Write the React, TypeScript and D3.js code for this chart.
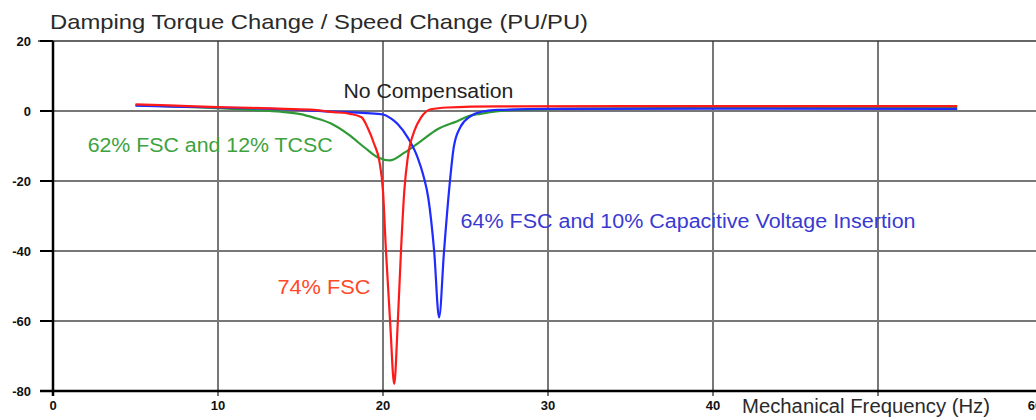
import React, { useRef, useEffect } from "react";
import * as d3 from "d3";

// Frequency (Hz) / damping value (PU/PU)
const RED_FSC74: [number, number][] = [
    [5, 1.9], [7, 1.6], [10, 1.1], [12, 0.9], [14, 0.6], [15.8, 0.3], [17, -0.3], [18, -0.8],
    [18.7, -1.8], [19.07, -4.8], [19.47, -9.5], [19.78, -14.3], [20.0, -22.9], [20.18, -40],
    [20.44, -61], [20.68, -78], [20.89, -61], [21.09, -40], [21.29, -22.9], [21.5, -13.3],
    [21.9, -5.7], [22.3, -1.9], [22.9, 0.5], [23.9, 1.0], [27, 1.3], [35, 1.4], [45, 1.4], [54.8, 1.4],
];

const BLUE_CVI: [number, number][] = [
    [5, 1.5], [8, 1.2], [10, 1.0], [14, 0.5], [17, -0.2], [19, -0.6], [20, -1.0], [20.5, -2.2],
    [20.9, -3.8], [21.5, -7.6], [22.1, -13.3], [22.45, -18.5], [22.75, -25], [23.1, -40], [23.4, -59],
    [23.7, -40], [24.0, -22.9], [24.3, -10], [24.7, -4.5], [25.3, -1.5], [25.9, -0.3], [27, 0.3],
    [30, 0.6], [40, 0.7], [54.8, 0.6],
];

const GREEN_TCSC: [number, number][] = [
    [5, 1.7], [8, 1.2], [10, 0.8], [12, 0.3], [13.8, -0.2], [15, -0.9], [15.8, -1.9], [16.85, -3.6],
    [17.9, -6.7], [18.9, -10.5], [19.7, -13.3], [20.4, -14.1], [21.3, -11.9], [22.3, -8.6],
    [23.3, -5.2], [24.5, -2.9], [25.3, -1.3], [25.9, -0.8], [28, 0.3], [32, 0.7], [40, 0.9], [54.8, 1.0],
];

const X_TICKS = [0, 10, 20, 30, 40, 60];
const X_GRID = [10, 20, 30, 40, 50];
const Y_TICKS = [20, 0, -20, -40, -60, -80];
const Y_GRID = [0, -20, -40, -60];

const SERIES = [
    { key: "green", data: GREEN_TCSC, color: "#2f9a35" },
    { key: "blue", data: BLUE_CVI, color: "#1f2bff" },
    { key: "red", data: RED_FSC74, color: "#ff1a1a" },
];

const LABELS = [
    { text: "No Compensation", f: 17.6, v: 3.8, len: 170, color: "#222" },
    { text: "62% FSC and 12% TCSC", f: 2.1, v: -11.8, len: 245, color: "#3ea23e" },
    { text: "64% FSC and 10% Capacitive Voltage Insertion", f: 24.7, v: -33.4, len: 455, color: "#3a3ad0" },
    { text: "74% FSC", f: 13.6, v: -52.3, len: 93, color: "#ff4a2a" },
];

const FONT = "'Liberation Sans', Arial, sans-serif";

export default function App() {
    const ref = useRef<SVGSVGElement>(null);

    useEffect(() => {
        if (!ref.current) return;
        const svg = d3.select(ref.current);
        svg.selectAll("*").remove();

        const width = 1036;
        const x = d3.scaleLinear().domain([0, 60]).range([53, 1043]);
        const y = d3.scaleLinear().domain([-80, 20]).range([391, 41]);

        // Grid
        const grid = svg.append("g");
        grid.selectAll(".hg").data(Y_GRID).enter().append("line")
            .attr("x1", 40).attr("x2", width)
            .attr("y1", d => y(d)).attr("y2", d => y(d))
            .attr("stroke", "#777").attr("stroke-width", 2);
        grid.selectAll(".vg").data(X_GRID).enter().append("line")
            .attr("x1", d => x(d)).attr("x2", d => x(d))
            .attr("y1", y(20)).attr("y2", y(-80) + 5)
            .attr("stroke", "#777").attr("stroke-width", 2);

        // Frame
        svg.append("line").attr("x1", 38).attr("x2", width).attr("y1", y(20)).attr("y2", y(20))
            .attr("stroke", "#333").attr("stroke-width", 1.6);
        svg.append("line").attr("x1", 40).attr("x2", width).attr("y1", y(-80)).attr("y2", y(-80))
            .attr("stroke", "#000").attr("stroke-width", 2.5);
        svg.append("line").attr("x1", x(0)).attr("x2", x(0)).attr("y1", y(20)).attr("y2", y(-80) + 5)
            .attr("stroke", "#000").attr("stroke-width", 2.5);

        // Y ticks + labels
        svg.selectAll(".yt").data(Y_TICKS).enter().append("line")
            .attr("x1", 40).attr("x2", x(0))
            .attr("y1", d => y(d)).attr("y2", d => y(d))
            .attr("stroke", "#000").attr("stroke-width", 2);
        svg.selectAll(".yl").data(Y_TICKS).enter().append("text")
            .attr("x", 31).attr("y", d => y(d)).attr("dy", "0.36em")
            .attr("text-anchor", "end")
            .attr("font-family", FONT).attr("font-size", 13).attr("font-weight", "bold")
            .attr("fill", "#111")
            .text(d => `${d}`);

        // X tick labels (the 60 sits at the very edge, partly cut like the original)
        svg.selectAll(".xl").data(X_TICKS).enter().append("text")
            .attr("x", d => (d === 60 ? x(d) - 8 : x(d))).attr("y", 410)
            .attr("text-anchor", "middle")
            .attr("font-family", FONT).attr("font-size", 13).attr("font-weight", "bold")
            .attr("fill", "#111")
            .text(d => `${d}`);

        // Curves
        const line = d3.line<[number, number]>()
            .x(d => x(d[0]))
            .y(d => y(d[1]))
            .curve(d3.curveMonotoneX);

        svg.append("g").selectAll("path").data(SERIES).enter().append("path")
            .attr("d", d => line(d.data) || "")
            .attr("fill", "none")
            .attr("stroke", d => d.color)
            .attr("stroke-width", 2.2)
            .attr("stroke-linejoin", "round");

        // Annotations
        svg.selectAll(".lab").data(LABELS).enter().append("text")
            .attr("x", d => x(d.f)).attr("y", d => y(d.v))
            .attr("font-family", FONT).attr("font-size", 20)
            .attr("textLength", d => d.len).attr("lengthAdjust", "spacingAndGlyphs")
            .attr("fill", d => d.color)
            .text(d => d.text);

        // Titles
        svg.append("text").attr("x", 50).attr("y", 29)
            .attr("font-family", FONT).attr("font-size", 21).attr("fill", "#2a2a2a")
            .attr("textLength", 538).attr("lengthAdjust", "spacingAndGlyphs")
            .text("Damping Torque Change / Speed Change (PU/PU)");
        svg.append("text").attr("x", 742).attr("y", 413)
            .attr("font-family", FONT).attr("font-size", 20).attr("fill", "#2a2a2a")
            .attr("textLength", 248).attr("lengthAdjust", "spacingAndGlyphs")
            .text("Mechanical Frequency (Hz)");
    }, []);

    return (
        <svg
            ref={ref}
            width={1036}
            height={420}
            style={{ position: "absolute", left: 0, top: 0, background: "#fff" }}
        />
    );
}
